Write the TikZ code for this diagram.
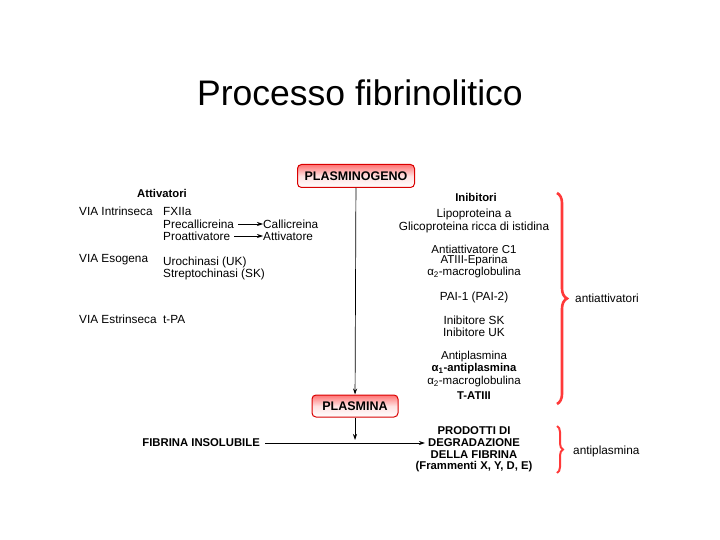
\documentclass[tikz,border=0pt]{standalone}
\usepackage{fontspec}
\setmainfont{Liberation Sans}
\usetikzlibrary{decorations.pathreplacing,arrows.meta}
\tikzset{
  >={Stealth[length=6pt,width=4pt]},
  link/.style={->,line width=0.7pt},
  txt/.style={inner sep=0pt,font=\fontsize{11.8}{14}\selectfont},
  bold/.style={txt,font=\fontsize{11.3}{14}\selectfont\bfseries},
  small/.style={txt,font=\fontsize{11.5}{14}\selectfont},
  box/.style={draw=red!85!black,line width=1pt,rounded corners=4pt,
    top color=red!55,bottom color=white,middle color=red!12,
    minimum height=23pt,font=\fontsize{12.5}{14}\selectfont\bfseries},
  curly/.style={draw=red!70!pink,line width=2.6pt,
    decorate,decoration={brace,amplitude=10pt}}
}
\begin{document}
\begin{tikzpicture}[x=1pt,y=-1pt]
\useasboundingbox[fill=white] (0,0) rectangle (720,540);
\def\lx{79} \def\mx{163} \def\rx{474}

\node[inner sep=0pt,font=\fontsize{35.5}{40}\selectfont] (title) at (360,93) {Processo fibrinolitico};

\node[box,minimum width=117pt] (plg) at (356,176) {PLASMINOGENO};
\node[box,minimum width=86pt,minimum height=22pt] (pl) at (355,406) {PLASMINA};
\draw[link] (plg) -- (pl);

\node[bold] (att) at (162,193) {Attivatori};
\node[txt,anchor=west] (vi) at (\lx,211) {VIA Intrinseca};
\node[txt,anchor=west] (fx) at (\mx,211) {FXIIa};
\node[txt,anchor=west] (prec) at (\mx,224) {Precallicreina};
\node[txt,anchor=west] (proa) at (\mx,236) {Proattivatore};
\node[txt,anchor=west] (call) at (263,224) {Callicreina};
\node[txt,anchor=west] (attv) at (263,236) {Attivatore};
\draw[link] (prec.east) ++(4,0) -- (call.west);
\draw[link] (proa.east) ++(4,0) -- (attv.west);
\node[txt,anchor=west] (ve) at (\lx,260) {VIA Esogena};
\node[txt,anchor=west] (uk) at (\mx,262) {Urochinasi (UK)};
\node[txt,anchor=west] (sk) at (\mx,274) {Streptochinasi (SK)};
\node[txt,anchor=west] (vx) at (\lx,319) {VIA Estrinseca};
\node[txt,anchor=west] (tpa) at (\mx,319) {t-PA};

\node[bold] (inib) at (476,197) {Inibitori};
\node[txt] (lipo) at (\rx,214) {Lipoproteina a};
\node[txt] (glic) at (\rx,227) {Glicoproteina ricca di istidina};
\node[small] (c1) at (\rx,249) {Antiattivatore C1};
\node[small] (atiii) at (\rx,261) {ATIII-Eparina};
\node[small] (a2a) at (\rx,273) {α\textsubscript{2}-macroglobulina};
\node[txt] (pai) at (\rx,297) {PAI-1 (PAI-2)};
\node[txt] (isk) at (\rx,320) {Inibitore SK};
\node[txt] (iuk) at (\rx,332) {Inibitore UK};
\node[small] (apl) at (\rx,357) {Antiplasmina};
\node[bold] (a1) at (\rx,369) {α\textsubscript{1}-antiplasmina};
\node[small] (a2b) at (\rx,382) {α\textsubscript{2}-macroglobulina};
\node[bold] (tat) at (\rx,396) {T-ATIII};

\node[bold,anchor=east] (fib) at (260,443) {FIBRINA INSOLUBILE};
\node[bold] (pd1) at (\rx,431) {PRODOTTI DI};
\node[bold] (pd2) at (\rx,443) {DEGRADAZIONE};
\node[bold] (pd3) at (\rx,455) {DELLA FIBRINA};
\node[bold] (pd4) at (\rx,467) {(Frammenti X, Y, D, E)};
\draw[link] (fib.east) ++(5,0) -- ([xshift=-3pt]pd2.west);
\draw[link,shorten >=3pt] (pl) -- (pl.south |- fib);

\coordinate (b1t) at (557,193);
\coordinate (b1b) at (557,404);
\coordinate (b2t) at (557,426);
\coordinate (b2b) at (557,473);
\draw[curly] (b1t) -- (b1b);
\draw[curly,line width=2pt,decoration={amplitude=6pt}] (b2t) -- (b2b);
\node[txt,anchor=west] (aa) at (575,298) {antiattivatori};
\node[txt,anchor=west] (ap) at (573,451) {antiplasmina};
\end{tikzpicture}
\end{document}
